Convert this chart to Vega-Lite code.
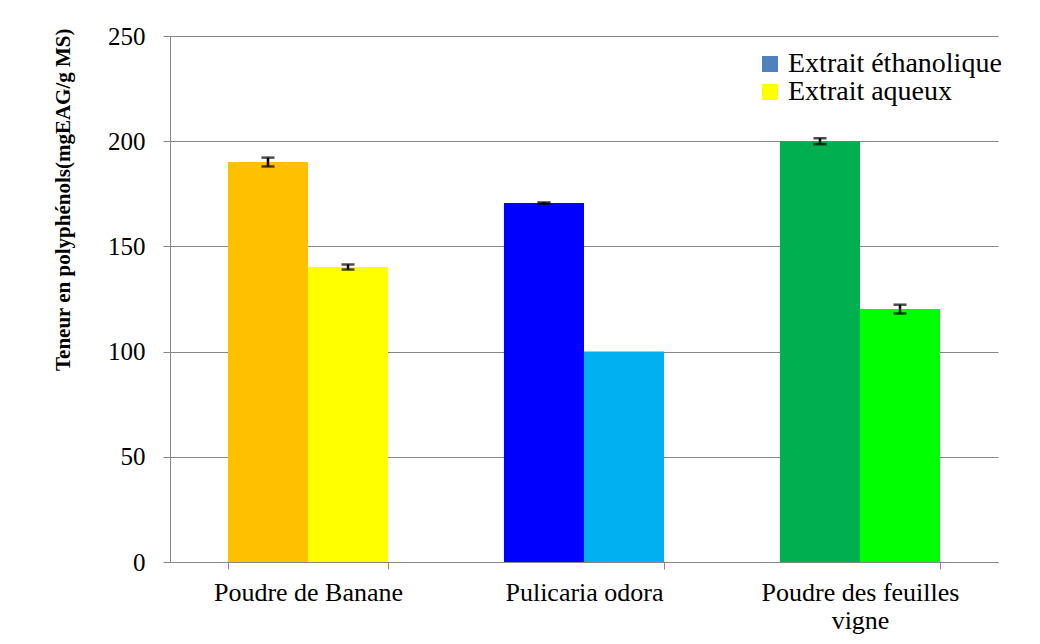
{
  "$schema": "https://vega.github.io/schema/vega-lite/v6.json",
  "width": 828,
  "height": 526,
  "autosize": {"type": "none"},
  "padding": {"left": 170, "top": 36, "right": 42, "bottom": 82},
  "background": "white",
  "data": {
    "values": [
      {"produit": "Poudre de Banane", "extrait": "Extrait éthanolique", "valeur": 190.1, "lo": 188.0, "hi": 192.2, "err": 2.1, "couleur": "#FFC000"},
      {"produit": "Poudre de Banane", "extrait": "Extrait aqueux", "valeur": 140.2, "lo": 139.0, "hi": 141.4, "err": 1.2, "couleur": "#FFFF00"},
      {"produit": "Pulicaria odora", "extrait": "Extrait éthanolique", "valeur": 170.6, "lo": 170.3, "hi": 170.9, "err": 0.3, "couleur": "#0000FF"},
      {"produit": "Pulicaria odora", "extrait": "Extrait aqueux", "valeur": 100.0, "lo": 100.0, "hi": 100.0, "err": 0, "couleur": "#00B0F0"},
      {"produit": "Poudre des feuilles vigne", "extrait": "Extrait éthanolique", "valeur": 200.0, "lo": 198.6, "hi": 201.4, "err": 1.4, "couleur": "#00B050"},
      {"produit": "Poudre des feuilles vigne", "extrait": "Extrait aqueux", "valeur": 120.2, "lo": 118.1, "hi": 122.3, "err": 2.1, "couleur": "#00FF00"}
    ]
  },
  "encoding": {
    "x": {
      "field": "produit",
      "type": "nominal",
      "sort": ["Poudre de Banane", "Pulicaria odora", "Poudre des feuilles vigne"],
      "scale": {"paddingInner": 0.42, "paddingOuter": 0.21},
      "axis": {
        "title": null,
        "labelAngle": 0,
        "labelFont": "Liberation Serif",
        "labelFontSize": 26,
        "labelColor": "#000000",
        "labelPadding": 10,
        "labelLineHeight": 28,
        "labelLimit": 0,
        "labelOverlap": false,
        "tickBand": "extent",
        "tickSize": 7,
        "tickColor": "#868686",
        "domainColor": "#868686",
        "grid": false,
        "labelExpr": "datum.value == 'Poudre des feuilles vigne' ? ['Poudre des feuilles', 'vigne'] : datum.label"
      }
    },
    "xOffset": {
      "field": "extrait",
      "type": "nominal",
      "sort": ["Extrait éthanolique", "Extrait aqueux"],
      "scale": {"paddingInner": 0, "paddingOuter": 0}
    }
  },
  "layer": [
    {
      "mark": {"type": "bar", "strokeWidth": 0},
      "encoding": {
        "y": {"datum": 0, "type": "quantitative"},
        "color": {
          "field": "extrait",
          "type": "nominal",
          "scale": {"domain": ["Extrait éthanolique", "Extrait aqueux"], "range": ["#4F81BD", "#FFFF00"]},
          "legend": {
            "title": null,
            "orient": "none",
            "legendX": 586,
            "legendY": 14,
            "labelFont": "Liberation Serif",
            "labelFontSize": 28,
            "labelColor": "#000000",
            "labelOffset": 4,
            "labelLimit": 0,
            "symbolType": "square",
            "symbolSize": 256,
            "symbolStrokeWidth": 0,
            "rowPadding": 0
          }
        }
      }
    },
    {
      "mark": {"type": "bar"},
      "encoding": {
        "y": {
          "field": "valeur",
          "type": "quantitative",
          "scale": {"domain": [0, 250], "nice": false},
          "axis": {
            "values": [0, 50, 100, 150, 200, 250],
            "title": "Teneur en polyphénols(mgEAG/g MS)",
            "titleFont": "Liberation Serif",
            "titleFontSize": 21,
            "titleFontWeight": "bold",
            "titleColor": "#000000",
            "titleAnchor": "end",
            "titleY": -8,
            "titlePadding": 34,
            "labelFont": "Liberation Serif",
            "labelFontSize": 25,
            "labelColor": "#000000",
            "labelPadding": 18,
            "tickSize": 7,
            "tickColor": "#868686",
            "domainColor": "#868686",
            "grid": true,
            "gridColor": "#868686",
            "gridWidth": 1
          }
        },
        "fill": {"field": "couleur", "type": "nominal", "scale": null}
      }
    },
    {
      "transform": [{"filter": "datum.err > 0"}],
      "mark": {"type": "rule", "color": "#000000", "strokeWidth": 2.5},
      "encoding": {
        "y": {"field": "lo", "type": "quantitative"},
        "y2": {"field": "hi"}
      }
    },
    {
      "transform": [{"filter": "datum.err > 0"}],
      "mark": {"type": "tick", "color": "#000000", "size": 13, "thickness": 2.5},
      "encoding": {
        "y": {"field": "lo", "type": "quantitative"}
      }
    },
    {
      "transform": [{"filter": "datum.err > 0"}],
      "mark": {"type": "tick", "color": "#000000", "size": 13, "thickness": 2.5},
      "encoding": {
        "y": {"field": "hi", "type": "quantitative"}
      }
    }
  ],
  "config": {
    "view": {"stroke": null}
  }
}
